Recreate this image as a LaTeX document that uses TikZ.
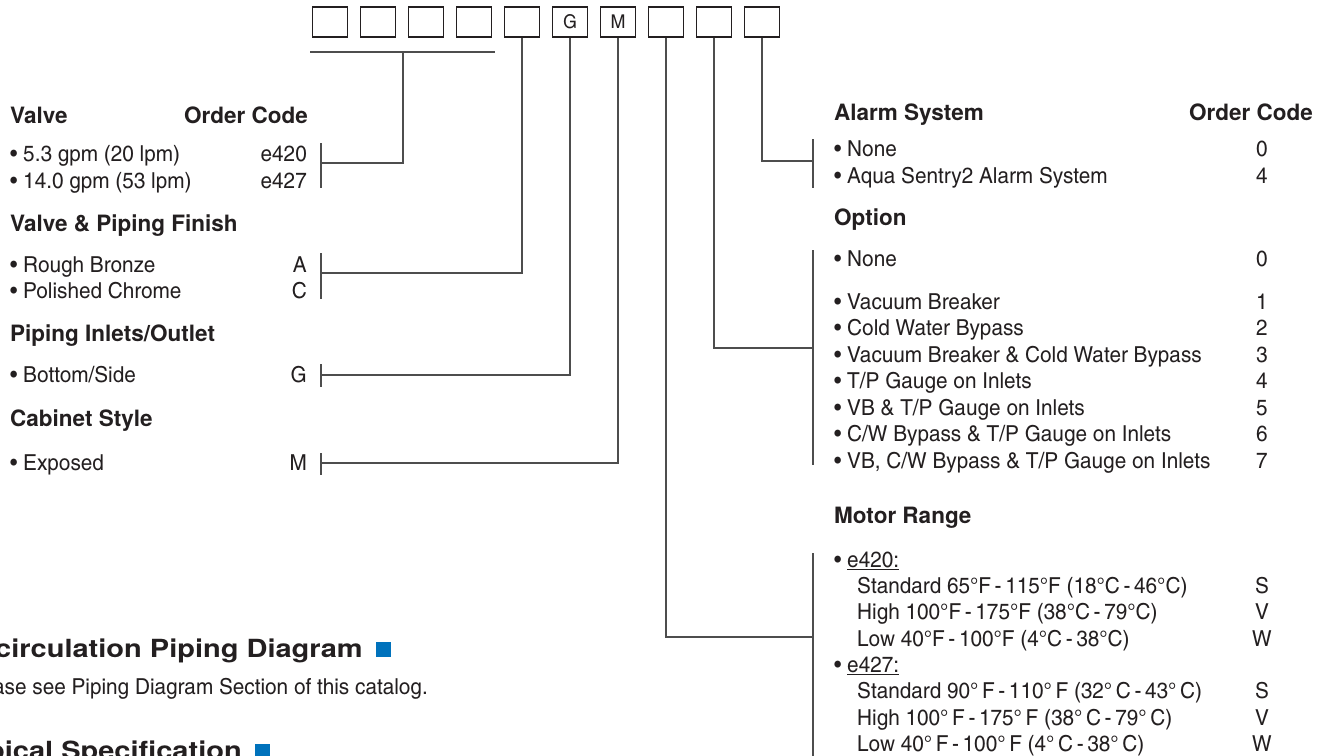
\documentclass[tikz,border=0pt]{standalone}
\usepackage{fontspec}
\newfontfamily\condfam{texgyreheroscn-regular.otf}[FakeStretch=1.15]
\newfontfamily\boldfam{texgyreheros-bold.otf}
\newfontfamily\bigfam{texgyreheros-bold.otf}[FakeStretch=1.16]
\newcommand\condtxt{\condfam\fontsize{22}{26}\selectfont}
\newcommand\headtxt{\boldfam\fontsize{22.5}{27}\selectfont}
\newcommand\bigheadtxt{\bigfam\fontsize{25}{29}\selectfont}
\definecolor{ink}{HTML}{231F20}
\definecolor{rulec}{HTML}{4D4D4D}
\definecolor{blu}{HTML}{0072BC}
\begin{document}
\begin{tikzpicture}[x=1pt,y=-1pt,
  every node/.style={inner sep=0pt,text=ink,font=\condtxt},
  item/.style={anchor=base west},
  code/.style={anchor=base east},
  mid/.style={anchor=base},
  head/.style={anchor=base west,font=\headtxt},
  box/.style={draw=ink,line width=1.3pt,minimum width=35pt,minimum height=30pt},
  rl/.style={draw=rulec,line width=1.5pt}]
  \useasboundingbox (0,0) rectangle (1327,755);
  \clip (0,0) rectangle (1327,755);

  % code boxes
  \foreach \i/\t in {1/,2/,3/,4/,5/,6/G,7/M,8/,9/,10/}
    \node[box,font=\condfam\fontsize{19}{22}\selectfont] (b\i) at ({330+48*(\i-1)},22) {\t};

  % left column
  \node[head] (valve) at (10,123) {Valve};
  \node[head,anchor=base east] (ocl) at (308,123) {Order Code};
  \node[item] (v1) at (10,161) {\textbullet\ 5.3 gpm (20 lpm)};
  \node[code] (v1c) at (307,161) {e420};
  \node[item] (v2) at (10,188) {\textbullet\ 14.0 gpm (53 lpm)};
  \node[code] (v2c) at (307,188) {e427};
  \node[head] (fin) at (10,231) {Valve \& Piping Finish};
  \node[item] (f1) at (10,272) {\textbullet\ Rough Bronze};
  \node[code] (f1c) at (307,272) {A};
  \node[item] (f2) at (10,298) {\textbullet\ Polished Chrome};
  \node[code] (f2c) at (307,298) {C};
  \node[head] (pip) at (10,341) {Piping Inlets/Outlet};
  \node[item] (p1) at (10,382) {\textbullet\ Bottom/Side};
  \node[code] (p1c) at (307,382) {G};
  \node[head] (cab) at (10,426) {Cabinet Style};
  \node[item] (c1) at (10,470) {\textbullet\ Exposed};
  \node[code] (c1c) at (307,470) {M};

  % right column
  \node[head] (alarm) at (834,120) {Alarm System};
  \node[head,anchor=base east] (ocr) at (1313,120) {Order Code};
  \node[item] (a1) at (834,156) {\textbullet\ None};
  \node[mid] (a1c) at (1262,156) {0};
  \node[item] (a2) at (834,183) {\textbullet\ Aqua Sentry2 Alarm System};
  \node[mid] (a2c) at (1262,183) {4};
  \node[head] (opt) at (834,225) {Option};
  \node[item] (o0) at (834,266) {\textbullet\ None};
  \node[mid] (o0c) at (1262,266) {0};
  \node[item] (o1) at (834,309) {\textbullet\ Vacuum Breaker};
  \node[mid] (o1c) at (1262,309) {1};
  \node[item] (o2) at (834,335.5) {\textbullet\ Cold Water Bypass};
  \node[mid] (o2c) at (1262,335.5) {2};
  \node[item] (o3) at (834,362) {\textbullet\ Vacuum Breaker \& Cold Water Bypass};
  \node[mid] (o3c) at (1262,362) {3};
  \node[item] (o4) at (834,388.5) {\textbullet\ T/P Gauge on Inlets};
  \node[mid] (o4c) at (1262,388.5) {4};
  \node[item] (o5) at (834,415) {\textbullet\ VB \& T/P Gauge on Inlets};
  \node[mid] (o5c) at (1262,415) {5};
  \node[item] (o6) at (834,441.5) {\textbullet\ C/W Bypass \& T/P Gauge on Inlets};
  \node[mid] (o6c) at (1262,441.5) {6};
  \node[item] (o7) at (834,468) {\textbullet\ VB, C/W Bypass \& T/P Gauge on Inlets};
  \node[mid] (o7c) at (1262,468) {7};
  \node[head] (mot) at (834,523) {Motor Range};
  \node[item] (m0) at (834,567) {\textbullet\ \underline{e420:}};
  \node[item] (m1) at (857,593) {Standard 65°F\,-\,115°F (18°C\,-\,46°C)};
  \node[mid] (m1c) at (1262,593) {S};
  \node[item] (m2) at (857,619.5) {High 100°F\,-\,175°F (38°C\,-\,79°C)};
  \node[mid] (m2c) at (1262,619.5) {V};
  \node[item] (m3) at (857,646) {Low 40°F\,-\,100°F (4°C\,-\,38°C)};
  \node[mid] (m3c) at (1262,646) {W};
  \node[item] (n0) at (834,672) {\textbullet\ \underline{e427:}};
  \node[item] (n1) at (857,698.5) {Standard 90°\,F\,-\,110°\,F (32°\,C\,-\,43°\,C)};
  \node[mid] (n1c) at (1262,698.5) {S};
  \node[item] (n2) at (857,725) {High 100°\,F\,-\,175°\,F (38°\,C\,-\,79°\,C)};
  \node[mid] (n2c) at (1262,725) {V};
  \node[item] (n3) at (857,751) {Low 40°\,F\,-\,100°\,F (4°\,C\,-\,38°\,C)};
  \node[mid] (n3c) at (1262,751) {W};

  % brackets
  \foreach \n/\x/\y/\a/\b in {valbr/321/163/143/188, finbr/321/273/253/299,
      pipbr/321/375/364/387, cabbr/321/463/453/475, alabr/813/161/139/188,
      optbr/813/348/250/465, motbr/813/637/553/760} {
    \coordinate (\n) at (\x,\y);
    \draw[rl] (\x,\a) -- (\x,\b);
  }

  % leaders
  \coordinate (barl) at (310,52);
  \coordinate (barr) at (495,52);
  \coordinate (barm) at (403,52);
  \draw[rl] (barl) -- (barr);
  \draw[rl] (barm) |- (valbr);
  \draw[rl] (b5.south) |- (finbr);
  \draw[rl] (b6.south) |- (pipbr);
  \draw[rl] (b7.south) |- (cabbr);
  \draw[rl] (b8.south) |- (motbr);
  \draw[rl] (b9.south) |- (optbr);
  \draw[rl] (b10.south) |- (alabr);

  % section headings below
  \node[anchor=base east,font=\bigheadtxt] (recirc) at (363,657) {Recirculation Piping Diagram};
  \fill[blu] (376,642) rectangle (391,657);
  \node[anchor=base east] (see) at (428,694) {Please see Piping Diagram Section of this catalog.};
  \node[anchor=base east,font=\bigheadtxt] (spec) at (242,759) {Typical Specification};
  \fill[blu] (255,744) rectangle (270,759);
\end{tikzpicture}
\end{document}
